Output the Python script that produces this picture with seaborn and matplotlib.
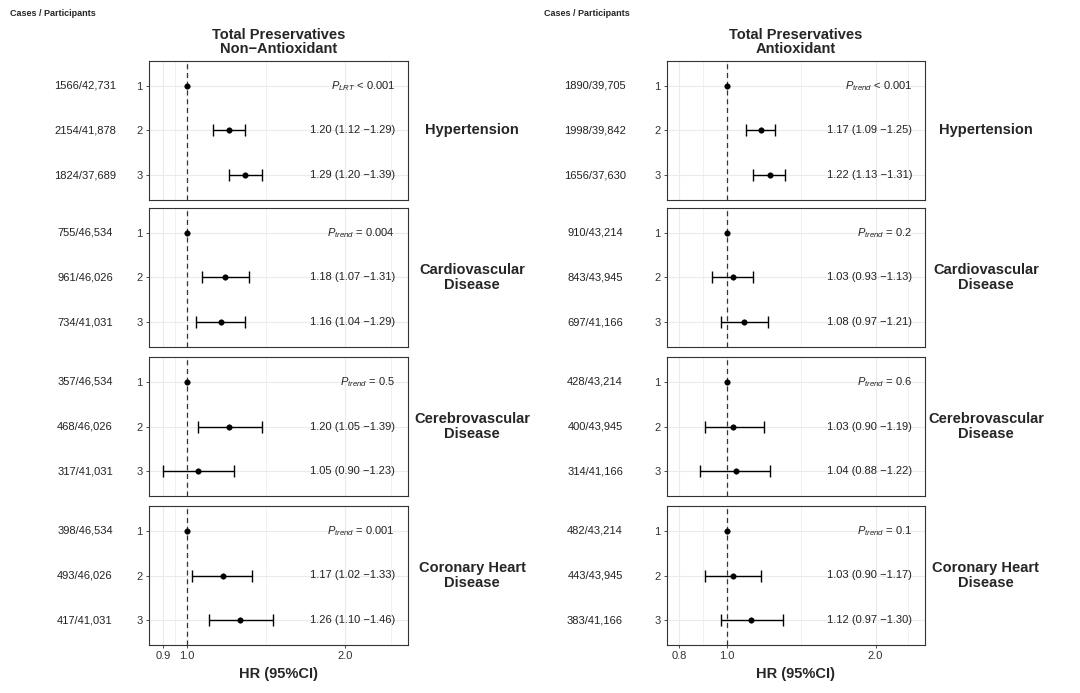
import numpy as np
import pandas as pd
import seaborn as sns
import matplotlib.pyplot as plt
from matplotlib.ticker import FixedLocator, NullFormatter

sns.set_theme(style="white")
plt.rcParams['font.family'] = ['Liberation Sans', 'DejaVu Sans']
plt.rcParams['mathtext.fontset'] = 'custom'
plt.rcParams['mathtext.it'] = 'Liberation Sans:italic'
plt.rcParams['mathtext.rm'] = 'Liberation Sans'

diseases = ["Hypertension", "Cardiovascular\nDisease", "Cerebrovascular\nDisease", "Coronary Heart\nDisease"]
groups = [1, 2, 3]

# Left: Non-Antioxidant
left_cases = [["1566/42,731", "2154/41,878", "1824/37,689"],
              ["755/46,534", "961/46,026", "734/41,031"],
              ["357/46,534", "468/46,026", "317/41,031"],
              ["398/46,534", "493/46,026", "417/41,031"]]
left_hr = [[1.0, 1.20, 1.29], [1.0, 1.18, 1.16], [1.0, 1.20, 1.05], [1.0, 1.17, 1.26]]
left_lo = [[1.0, 1.12, 1.20], [1.0, 1.07, 1.04], [1.0, 1.05, 0.90], [1.0, 1.02, 1.10]]
left_hi = [[1.0, 1.29, 1.39], [1.0, 1.31, 1.29], [1.0, 1.39, 1.23], [1.0, 1.33, 1.46]]
left_p = [r"$P_{LRT}$ < 0.001", r"$P_{trend}$ = 0.004", r"$P_{trend}$ = 0.5", r"$P_{trend}$ = 0.001"]

# Right: Antioxidant
right_cases = [["1890/39,705", "1998/39,842", "1656/37,630"],
               ["910/43,214", "843/43,945", "697/41,166"],
               ["428/43,214", "400/43,945", "314/41,166"],
               ["482/43,214", "443/43,945", "383/41,166"]]
right_hr = [[1.0, 1.17, 1.22], [1.0, 1.03, 1.08], [1.0, 1.03, 1.04], [1.0, 1.03, 1.12]]
right_lo = [[1.0, 1.09, 1.13], [1.0, 0.93, 0.97], [1.0, 0.90, 0.88], [1.0, 0.90, 0.97]]
right_hi = [[1.0, 1.25, 1.31], [1.0, 1.13, 1.21], [1.0, 1.19, 1.22], [1.0, 1.17, 1.30]]
right_p = [r"$P_{trend}$ < 0.001", r"$P_{trend}$ = 0.2", r"$P_{trend}$ = 0.6", r"$P_{trend}$ = 0.1"]

sides = [
    dict(title="Total Preservatives\nNon\u2212Antioxidant", cases=left_cases, hr=left_hr, lo=left_lo, hi=left_hi,
         p=left_p, x0=149, x1=408, xlim=(0.846, 2.64), ticks=[0.9, 1.0, 2.0], minor=[0.949, 1.414, 2.45],
         casex=-0.247, dx=1.247, headx=10),
    dict(title="Total Preservatives\nAntioxidant", cases=right_cases, hr=right_hr, lo=right_lo, hi=right_hi,
         p=right_p, x0=667, x1=925, xlim=(0.755, 2.52), ticks=[0.8, 1.0, 2.0], minor=[0.894, 1.414, 2.33],
         casex=-0.279, dx=1.236, headx=544),
]

W, H = 1080, 693
fig = plt.figure(figsize=(W / 100, H / 100), dpi=100)
tops = [61, 208, 357, 506]
ph = 139

def fmt(h, l, u):
    return f"{h:.2f} ({l:.2f} \u2212{u:.2f})"

for s in sides:
    fig.text(s["headx"] / W, 1 - 14 / H, "Cases / Participants", fontsize=6.5, fontweight="bold", va="center")
    for i, d in enumerate(diseases):
        ax = fig.add_axes([s["x0"] / W, 1 - (tops[i] + ph) / H, (s["x1"] - s["x0"]) / W, ph / H])
        df = pd.DataFrame({"grp": groups, "hr": s["hr"][i], "lo": s["lo"][i], "hi": s["hi"][i]})
        ax.set_xscale("log")
        for g in s["ticks"] + s["minor"]:
            ax.axvline(g, color="#ebebeb", lw=0.8 if g in s["ticks"] else 0.5, zorder=0)
        for g in groups:
            ax.axhline(g, color="#ebebeb", lw=0.8, zorder=0)
        ax.axvline(1.0, color="#333333", lw=0.9, ls=(0, (4, 3)), zorder=1)
        e = df[df.hi > df.lo]
        ax.errorbar(e.hr, e.grp, xerr=[e.hr - e.lo, e.hi - e.hr], fmt="none", ecolor="black",
                    elinewidth=1.0, capsize=4.5, capthick=1.0, zorder=2)
        sns.scatterplot(data=df, x="hr", y="grp", ax=ax, color="black", s=16, edgecolor="black", zorder=3, legend=False)
        ax.set_xlim(*s["xlim"])
        ax.set_ylim(3.56, 0.44)
        ax.set_yticks(groups)
        ax.set_yticklabels([str(g) for g in groups], fontsize=8, color="#333333")
        ax.xaxis.set_major_locator(FixedLocator(s["ticks"]))
        ax.xaxis.set_minor_formatter(NullFormatter())
        ax.xaxis.set_minor_locator(FixedLocator([]))
        ax.tick_params(axis="y", length=2.5, width=0.6, color="#333333", left=True, pad=2)
        if i == 3:
            ax.tick_params(axis="x", length=2.5, width=0.6, color="#333333", bottom=True, pad=2)
            ax.set_xticklabels([f"{t:.1f}" for t in s["ticks"]], fontsize=8, color="#333333")
            ax.set_xlabel("HR (95%CI)", fontsize=10.5, fontweight="bold", labelpad=4)
        else:
            ax.tick_params(axis="x", bottom=False, labelbottom=False)
            ax.set_xlabel("")
        ax.set_ylabel("")
        for sp in ax.spines.values():
            sp.set_color("#333333"); sp.set_linewidth(0.8)
        if i == 0:
            ax.set_title(s["title"], fontsize=10.5, fontweight="bold", pad=6, linespacing=1.0)
        for j, g in enumerate(groups):
            ax.text(s["casex"], g, s["cases"][i][j], transform=ax.get_yaxis_transform(),
                    ha="center", va="center", fontsize=8, color="#222222")
            lab = s["p"][i] if j == 0 else fmt(s["hr"][i][j], s["lo"][i][j], s["hi"][i][j])
            ax.text(0.95, g, lab, transform=ax.get_yaxis_transform(), ha="right", va="center",
                    fontsize=8, color="#222222")
        ax.text(s["dx"], 0.5, d, transform=ax.transAxes, ha="center", va="center",
                fontsize=10.5, fontweight="bold", linespacing=1.05)

fig.savefig("out.png", dpi=100)
